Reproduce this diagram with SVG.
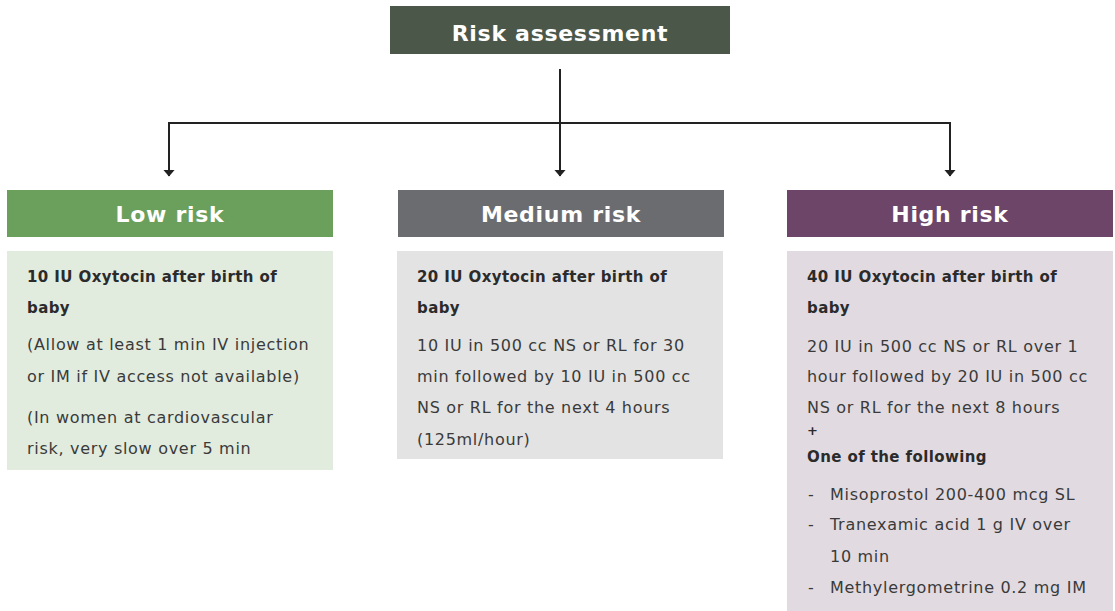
<svg xmlns="http://www.w3.org/2000/svg" width="1115" height="611" viewBox="0 0 1115 611">
<defs>
<marker id="arr" viewBox="0 0 7 12" refX="6.5" refY="6" markerWidth="7" markerHeight="12" markerUnits="userSpaceOnUse" orient="auto">
<path d="M0,0 L7,6 L0,12 Z" fill="#222"/>
</marker>
<style>
.hdr{font-family:"DejaVu Sans","Open Sans",sans-serif;font-weight:700;fill:#fff;text-anchor:middle;font-size:22px;letter-spacing:0.7px}
.b{font-family:"DejaVu Sans","Open Sans",sans-serif;font-weight:700;font-size:15px;letter-spacing:0.4px;fill:#2b2b2b}
.r{font-family:"DejaVu Sans","Open Sans",sans-serif;font-size:16px;letter-spacing:0.7px;fill:#3a3a3a}
.ln{fill:none;stroke:#222;stroke-width:2}
</style>
</defs>
<rect width="1115" height="611" fill="#fff"/>
<g id="risk-assessment">
<rect x="390" y="6" width="340" height="48" fill="#4b5849"/>
<text class="hdr" x="560" y="41">Risk assessment</text>
</g>
<g id="connectors">
<line class="ln" x1="169" y1="123" x2="950" y2="123"/>
<line class="ln" x1="560" y1="69" x2="560" y2="176" marker-end="url(#arr)"/>
<line class="ln" x1="169" y1="122" x2="169" y2="176" marker-end="url(#arr)"/>
<line class="ln" x1="950" y1="122" x2="950" y2="176" marker-end="url(#arr)"/>
</g>
<g id="low-risk">
<rect x="7" y="190" width="326" height="47" fill="#6a9f5c"/>
<text class="hdr" x="170" y="222">Low risk</text>
<rect x="7" y="251" width="326" height="219" fill="#e1ecdf"/>
<text class="b" x="27" y="282">10 IU Oxytocin after birth of</text>
<text class="b" x="27" y="313">baby</text>
<text class="r" x="27" y="350">(Allow at least 1 min IV injection</text>
<text class="r" x="27" y="382">or IM if IV access not available)</text>
<text class="r" x="27" y="423">(In women at cardiovascular</text>
<text class="r" x="27" y="454">risk, very slow over 5 min</text>
</g>
<g id="medium-risk">
<rect x="398" y="190" width="326" height="47" fill="#6b6c70"/>
<text class="hdr" x="561" y="222">Medium risk</text>
<rect x="397" y="251" width="326" height="208" fill="#e3e3e3"/>
<text class="b" x="417" y="282">20 IU Oxytocin after birth of</text>
<text class="b" x="417" y="313">baby</text>
<text class="r" x="417" y="351">10 IU in 500 cc NS or RL for 30</text>
<text class="r" x="417" y="382">min followed by 10 IU in 500 cc</text>
<text class="r" x="417" y="413">NS or RL for the next 4 hours</text>
<text class="r" x="417" y="445">(125ml/hour)</text>
</g>
<g id="high-risk">
<rect x="787" y="190" width="326" height="47" fill="#6c4568"/>
<text class="hdr" x="950" y="222">High risk</text>
<rect x="787" y="251" width="326" height="360" fill="#e1dbe1"/>
<text class="b" x="807" y="282">40 IU Oxytocin after birth of</text>
<text class="b" x="807" y="313">baby</text>
<text class="r" x="807" y="352">20 IU in 500 cc NS or RL over 1</text>
<text class="r" x="807" y="382">hour followed by 20 IU in 500 cc</text>
<text class="r" x="807" y="413">NS or RL for the next 8 hours</text>
<text class="b" x="807" y="435" style="font-size:13px">+</text>
<text class="b" x="807" y="462">One of the following</text>
<text class="r" x="808" y="500">-</text>
<text class="r" x="830" y="500">Misoprostol 200-400 mcg SL</text>
<text class="r" x="808" y="530">-</text>
<text class="r" x="830" y="530">Tranexamic acid 1 g IV over</text>
<text class="r" x="830" y="562">10 min</text>
<text class="r" x="808" y="593">-</text>
<text class="r" x="830" y="593">Methylergometrine 0.2 mg IM</text>
</g>
</svg>
